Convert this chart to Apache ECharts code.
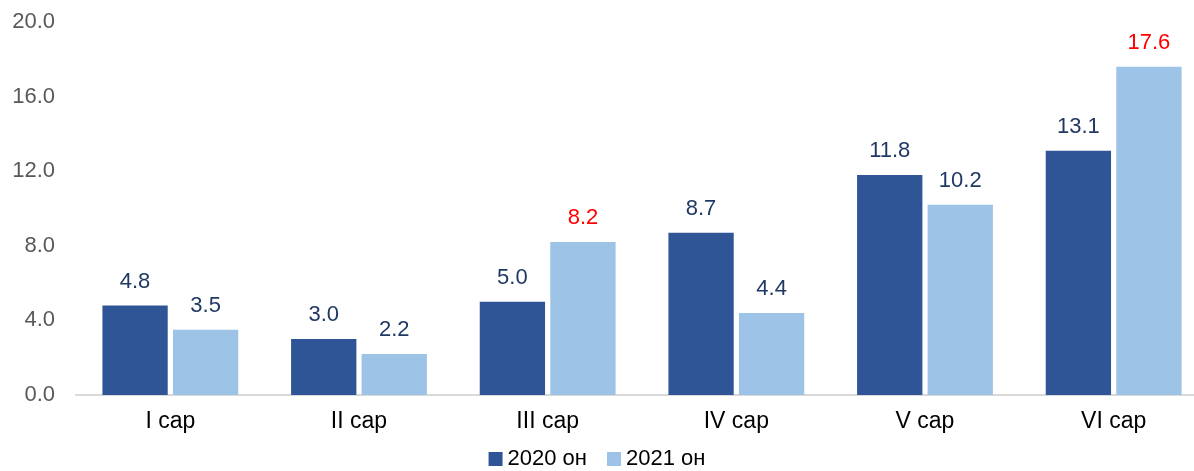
<!DOCTYPE html>
<html>
<head>
<meta charset="utf-8">
<script src="https://cdn.jsdelivr.net/npm/echarts@6/dist/echarts.min.js"></script>
<style>
html, body { margin: 0; padding: 0; background: #fff; }
#chart { width: 1194px; height: 471px; }
</style>
</head>
<body>
<div id="chart"></div>
<script>
// categories and values
var categories = ["I сар", "II сар", "III сар", "IV сар", "V сар", "VI сар"];
var series2020 = [4.8, 3.0, 5.0, 8.7, 11.8, 13.1];
var series2021 = [3.5, 2.2, 8.2, 4.4, 10.2, 17.6];
var highlight2021 = [false, false, true, false, false, true];
var seriesNames = ["2020 он", "2021 он"];

var font = "Liberation Sans, Arial, sans-serif";

var chart = echarts.init(document.getElementById("chart"));
chart.setOption({
  animation: false,
  textStyle: { fontFamily: font },
  grid: { left: 76, right: -14, top: 22, bottom: 76, outerBoundsMode: "none", containLabel: false },
  legend: {
    bottom: -4,
    left: "center",
    itemWidth: 14,
    itemHeight: 14,
    itemGap: 20,
    icon: "rect",
    textStyle: { fontSize: 22, color: "#000", fontFamily: font },
    data: seriesNames
  },
  xAxis: {
    type: "category",
    data: categories,
    axisLine: { lineStyle: { color: "#d9d9d9", width: 2 } },
    axisTick: { show: false },
    axisLabel: { fontSize: 23, color: "#000", margin: 15, fontFamily: font }
  },
  yAxis: {
    type: "value",
    min: 0,
    max: 20,
    interval: 4,
    splitLine: { show: false },
    axisLine: { show: false },
    axisLabel: {
      fontSize: 22,
      color: "#595959",
      margin: 21,
      fontFamily: font,
      formatter: function (v) { return v.toFixed(1); }
    }
  },
  series: [
    {
      name: seriesNames[0],
      type: "bar",
      barGap: "8%",
      barCategoryGap: "28%",
      itemStyle: { color: "#2f5597" },
      label: {
        show: true,
        position: "top",
        distance: 13,
        fontSize: 22,
        color: "#203864",
        fontFamily: font,
        formatter: function (p) { return p.value.toFixed(1); }
      },
      data: series2020
    },
    {
      name: seriesNames[1],
      type: "bar",
      itemStyle: { color: "#9dc3e6" },
      label: {
        show: true,
        position: "top",
        distance: 13,
        fontSize: 22,
        color: "#203864",
        fontFamily: font,
        formatter: function (p) { return p.value.toFixed(1); }
      },
      data: series2021.map(function (v, i) {
        return highlight2021[i]
          ? { value: v, label: { color: "#ff0000" } }
          : v;
      })
    }
  ]
});
</script>
</body>
</html>
